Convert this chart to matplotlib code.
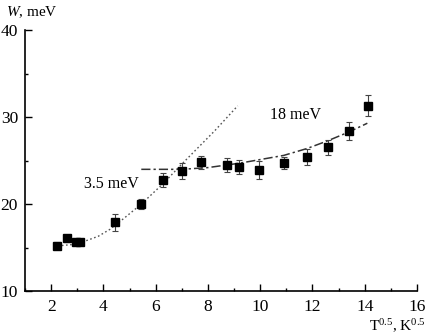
import matplotlib
matplotlib.use("Agg")
import matplotlib.pyplot as plt
from matplotlib.ticker import MultipleLocator

plt.rcParams["font.family"] = "Liberation Serif"
plt.rcParams["mathtext.fontset"] = "custom"
plt.rcParams["mathtext.rm"] = "Liberation Serif"
plt.rcParams["mathtext.it"] = "Liberation Serif:italic"

# measured points
t_sqrt = [2.21, 2.61, 2.97, 3.10, 4.43, 5.45, 6.28, 7.02, 7.72, 8.72, 9.17,
          9.97, 10.9, 11.8, 12.6, 13.38, 14.12]
width = [15.2, 16.05, 15.7, 15.7, 17.9, 20.0, 22.8, 23.8, 24.8, 24.55, 24.3,
         23.9, 24.75, 25.4, 26.55, 28.4, 31.3]
width_err = [0.4, 0.4, 0.3, 0.3, 0.95, 0.6, 0.8, 0.9, 0.75, 0.8, 0.8,
             1.05, 0.7, 0.9, 0.85, 1.05, 1.2]

# fit curves
fit1_x = [2.25, 2.8, 3.3, 3.8, 4.25, 4.8, 5.45, 6.3, 7.0, 8.25, 9.14]
fit1_y = [15.2, 15.35, 15.75, 16.3, 17.1, 18.4, 20.0, 22.4, 24.6, 28.4, 31.3]
fit2_x = [5.45, 7.0, 8.0, 9.2, 10.9, 11.8, 12.6, 13.4, 14.1]
fit2_y = [24.0, 24.0, 24.2, 24.7, 25.6, 26.4, 27.3, 28.3, 29.3]

fig = plt.figure(figsize=(4.31, 3.35), dpi=100)
ax = fig.add_axes([0.058, 0.131, 0.9095, 0.779])

ax.plot(fit1_x, fit1_y, color="#555555", linestyle=(0, (1.2, 1.8)), linewidth=1.0)
ax.plot(fit2_x, fit2_y, color="#333333", linestyle=(0, (6, 2, 1.5, 2)), linewidth=1.1)
ax.errorbar(t_sqrt, width, yerr=width_err, fmt="s", color="black", ms=6.3,
            ecolor="#444444", elinewidth=0.8, capsize=2.5, capthick=0.8)

ax.set_xlim(1, 16)
ax.set_ylim(10, 40)
ax.xaxis.set_major_locator(MultipleLocator(2))
ax.xaxis.set_minor_locator(MultipleLocator(1))
ax.yaxis.set_major_locator(MultipleLocator(10))
ax.yaxis.set_minor_locator(MultipleLocator(5))
ax.tick_params(which="major", direction="in", length=5, width=1.0, labelsize=12.5)
ax.tick_params(which="minor", direction="in", length=2.5, width=1.0)
ax.tick_params(axis="y", pad=5)
ax.tick_params(axis="x", pad=6)
for s in ("top", "right"):
    ax.spines[s].set_visible(False)
for s in ("left", "bottom"):
    ax.spines[s].set_linewidth(1.2)

# annotations
fig.text(270 / 431, 1 - 115 / 335, "18 meV", fontsize=11.5, va="center")
fig.text(84 / 431, 1 - 184 / 335, "3.5 meV", fontsize=11.5, va="center")
fig.text(6 / 431, 1 - 12 / 335, "$W$, meV", fontsize=11, va="center")
fig.text(426 / 431, 1 - 326 / 335, "T$^{0.5}$, K$^{0.5}$", fontsize=11,
         ha="right", va="center")

fig.savefig("out.png", dpi=100)
